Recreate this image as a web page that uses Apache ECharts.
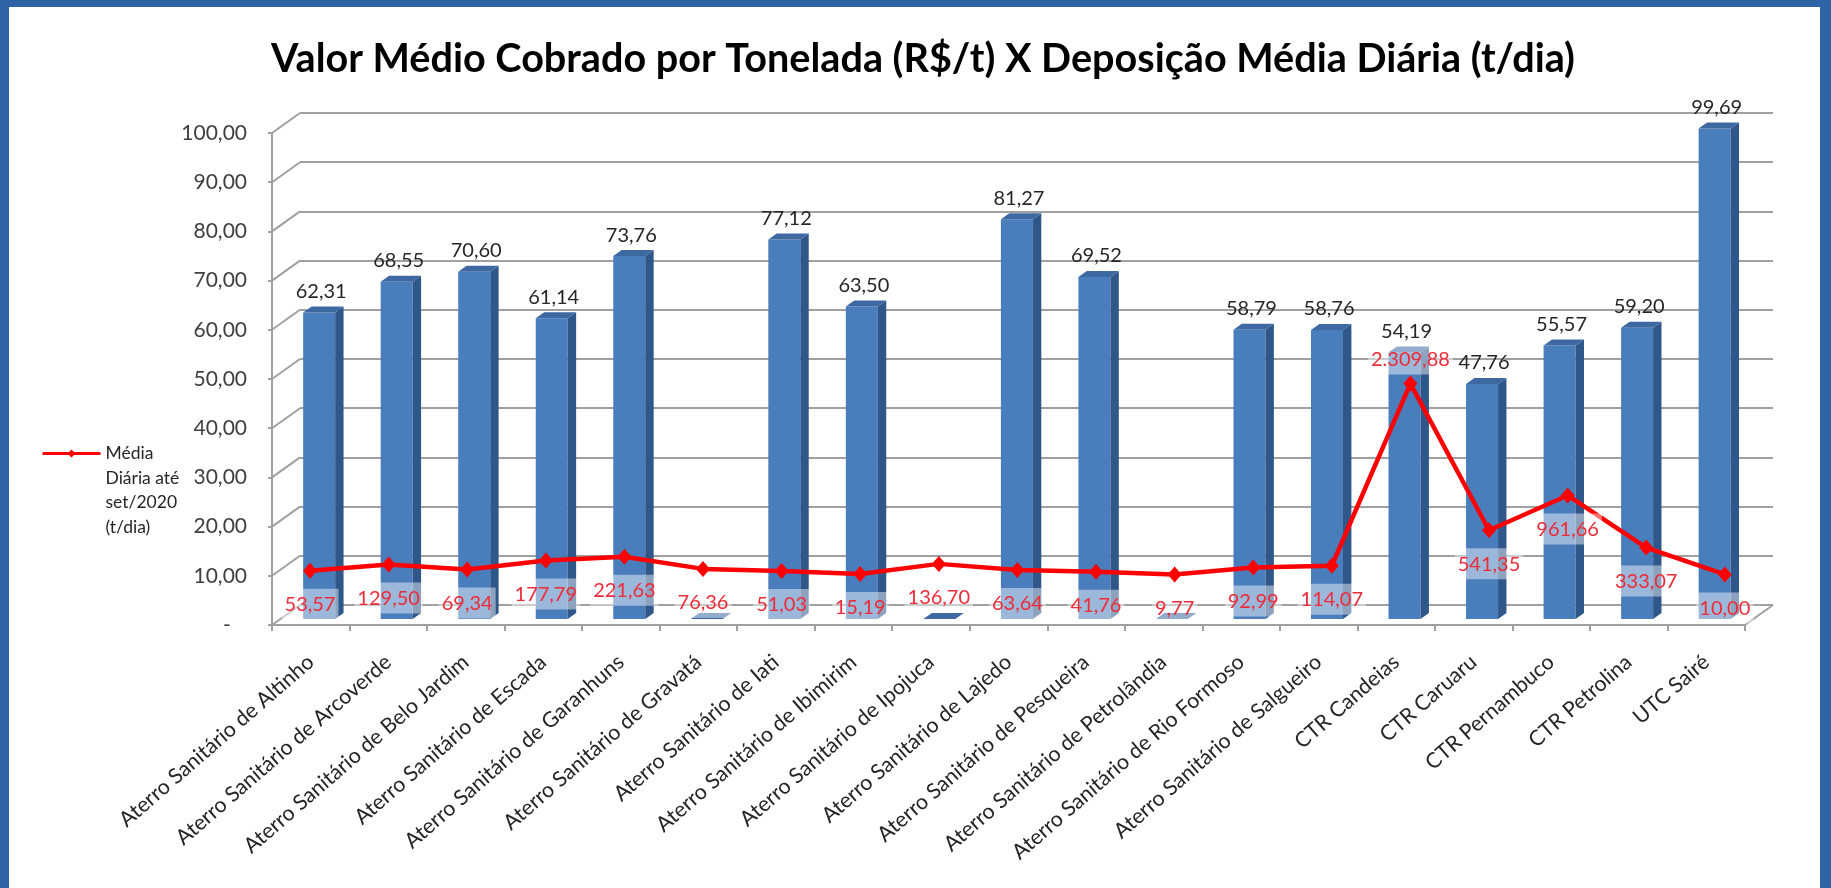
<!DOCTYPE html>
<html>
<head>
<meta charset="utf-8">
<title>Valor Médio Cobrado por Tonelada x Deposição Média Diária</title>
<script src="https://cdn.jsdelivr.net/npm/echarts@6/dist/echarts.min.js"></script>
<style>
  html, body { margin: 0; padding: 0; background: #ffffff; }
  #chart { position: absolute; left: 0; top: 0; width: 1831px; height: 888px; }
  #frame {
    position: absolute; left: 0; top: 0; width: 1831px; height: 888px;
    box-sizing: border-box; border-style: solid; border-color: #2f63a6;
    border-width: 7px 11px 0 9px; pointer-events: none;
  }
</style>
</head>
<body>
<div id="chart"></div>
<div id="frame"></div>
<script>
// ---- data ----
const categories = [
  'Aterro Sanitário de Altinho',
  'Aterro Sanitário de Arcoverde',
  'Aterro Sanitário de Belo Jardim',
  'Aterro Sanitário de Escada',
  'Aterro Sanitário de Garanhuns',
  'Aterro Sanitário de Gravatá',
  'Aterro Sanitário de Iati',
  'Aterro Sanitário de Ibimirim',
  'Aterro Sanitário de Ipojuca',
  'Aterro Sanitário de Lajedo',
  'Aterro Sanitário de Pesqueira',
  'Aterro Sanitário de Petrolândia',
  'Aterro Sanitário de Rio Formoso',
  'Aterro Sanitário de Salgueiro',
  'CTR Candeias',
  'CTR Caruaru',
  'CTR Pernambuco',
  'CTR Petrolina',
  'UTC Sairé'
];

// Valor médio cobrado por tonelada (R$/t)
const valorMedio = [62.31, 68.55, 70.60, 61.14, 73.76, 0, 77.12, 63.50, 0, 81.27,
                    69.52, 0, 58.79, 58.76, 54.19, 47.76, 55.57, 59.20, 99.69];

// Deposição média diária até set/2020 (t/dia)
const mediaDiaria = [53.57, 129.50, 69.34, 177.79, 221.63, 76.36, 51.03, 15.19, 136.70, 63.64,
                     41.76, 9.77, 92.99, 114.07, 2309.88, 541.35, 961.66, 333.07, 10.00];

// R$/t axis ticks
const yTicks = [0, 10, 20, 30, 40, 50, 60, 70, 80, 90, 100];

const lineName = 'Média Diária até set/2020 (t/dia)';
const legendLines = ['Média', 'Diária até', 'set/2020', '(t/dia)'];

// ---- look ----
const FONT = 'Lato';
const GRID_COLOR = '#a0a0a0';
const BAR_FRONT = '#4a7dbb';
const BAR_SIDE = '#30578a';
const BAR_TOP = '#3d68a2';
const RED = '#ff0000';

// oblique depth of the floor/walls, and where the bars sit inside it
const DEPTH = [28, -20];
const BAR_OFFSET = 0.3;   // front face of the bars, as a share of the depth
const BAR_DEPTH = 0.3;    // depth of each bar, as a share of the depth
const BAR_W = 32;

// pt-BR number format: 2.309,88
function fmt(v) {
  const parts = Math.abs(v).toFixed(2).split('.');
  const int = parts[0].replace(/\B(?=(\d{3})+(?!\d))/g, '.');
  return (v < 0 ? '-' : '') + int + ',' + parts[1];
}

const frontGrid = { left: 272, top: 133, width: 1473, height: 492 };
const backGrid = {
  left: frontGrid.left + DEPTH[0], top: frontGrid.top + DEPTH[1],
  width: frontGrid.width, height: frontGrid.height
};
const lineGrid = { left: 270.7, top: 133, width: 1493.4, height: 492 };

const peak = Math.max.apply(null, mediaDiaria);

const chart = echarts.init(document.getElementById('chart'), null, { renderer: 'canvas' });

chart.setOption({
  animation: false,
  backgroundColor: '#ffffff',
  title: {
    text: 'Valor Médio Cobrado por Tonelada (R$/t) X Deposição Média Diária (t/dia)',
    left: 918, top: 34, textAlign: 'center',
    textStyle: { fontFamily: FONT, fontWeight: 'bold', fontSize: 39.6, color: '#000000' }
  },
  legend: {
    left: 36, top: 362, orient: 'vertical',
    itemWidth: 58, itemHeight: 10,
    data: [lineName],
    // blank lines above keep the first text line level with the icon
    formatter: () => '\n\n\n' + legendLines.join('\n'),
    lineStyle: { width: 3 },
    textStyle: {
      fontFamily: FONT, fontSize: 17.5, color: '#262626', lineHeight: 24.7
    }
  },
  grid: [
    Object.assign({ containLabel: false }, frontGrid),
    Object.assign({ containLabel: false }, backGrid),
    Object.assign({ containLabel: false }, lineGrid)
  ],
  xAxis: [
    {
      gridIndex: 0, type: 'category', data: categories,
      axisLine: { show: true, lineStyle: { color: GRID_COLOR, width: 2 } },
      axisTick: { show: true, length: 6, interval: 0, lineStyle: { color: GRID_COLOR, width: 2 } },
      axisLabel: {
        interval: 0, rotate: 41, margin: 34,
        fontFamily: FONT, fontSize: 21.3, color: '#262626'
      },
      splitLine: { show: false }
    },
    {
      gridIndex: 1, type: 'category', data: categories,
      axisLine: { show: false }, axisTick: { show: false }, axisLabel: { show: false },
      splitLine: { show: false }
    },
    {
      gridIndex: 2, type: 'category', data: categories,
      axisLine: { show: false }, axisTick: { show: false }, axisLabel: { show: false },
      splitLine: { show: false }
    }
  ],
  yAxis: [
    {
      gridIndex: 0, type: 'value', min: yTicks[0], max: yTicks[yTicks.length - 1], interval: 10,
      axisLine: { show: true, lineStyle: { color: GRID_COLOR, width: 2 } },
      axisTick: { show: true, length: 4, lineStyle: { color: GRID_COLOR, width: 2 } },
      axisLabel: {
        margin: 25, fontFamily: FONT, fontSize: 21, color: '#404040',
        formatter: v => (v === 0 ? '-   ' : fmt(v))
      },
      splitLine: { show: false }
    },
    {
      gridIndex: 1, type: 'value', min: yTicks[0], max: yTicks[yTicks.length - 1], interval: 10,
      axisLine: { show: false }, axisTick: { show: false }, axisLabel: { show: false },
      splitLine: { show: true, lineStyle: { color: GRID_COLOR, width: 2 } }
    },
    {
      gridIndex: 2, type: 'value', min: -600, max: 5330, show: false,
      splitLine: { show: false }
    }
  ],
  series: [
    // side wall and floor edges joining the front axes to the back wall
    {
      type: 'custom', xAxisIndex: 0, yAxisIndex: 0, silent: true, z: 1,
      data: yTicks.map(v => [0, v]),
      renderItem(params, api) {
        const cs = params.coordSys;
        const v = api.value(1);
        const y = api.coord([0, v])[1];
        const style = { stroke: GRID_COLOR, lineWidth: 2, fill: null };
        const kids = [{
          type: 'line',
          shape: { x1: cs.x, y1: y, x2: cs.x + DEPTH[0], y2: y + DEPTH[1] },
          style: style
        }];
        if (v === 0) {
          kids.push({
            type: 'line',
            shape: { x1: cs.x + cs.width, y1: y, x2: cs.x + cs.width + DEPTH[0], y2: y + DEPTH[1] },
            style: style
          });
        }
        return { type: 'group', children: kids };
      }
    },
    // 3D columns: valor médio (R$/t)
    {
      type: 'custom', name: 'Valor Médio (R$/t)', xAxisIndex: 0, yAxisIndex: 0, z: 2,
      data: valorMedio.map((v, i) => [i, v]),
      renderItem(params, api) {
        const idx = api.value(0), val = api.value(1);
        const base = api.coord([idx, 0]);
        const top = api.coord([idx, val]);
        const fx = DEPTH[0] * BAR_OFFSET, fy = DEPTH[1] * BAR_OFFSET;
        const bx = DEPTH[0] * BAR_DEPTH, by = DEPTH[1] * BAR_DEPTH;
        const xl = base[0] + fx - BAR_W / 2, xr = xl + BAR_W;
        const yb = base[1] + fy, yt = top[1] + fy;
        const kids = [];
        if (yb - yt > 0.5) {
          kids.push({ type: 'rect', shape: { x: xl, y: yt, width: BAR_W, height: yb - yt },
                      style: { fill: BAR_FRONT } });
          kids.push({ type: 'polygon',
                      shape: { points: [[xr, yt], [xr + bx, yt + by], [xr + bx, yb + by], [xr, yb]] },
                      style: { fill: BAR_SIDE } });
        }
        kids.push({ type: 'polygon',
                    shape: { points: [[xl, yt], [xl + bx, yt + by], [xr + bx, yt + by], [xr, yt]] },
                    style: { fill: BAR_TOP } });
        if (val > 0) {
          kids.push({
            type: 'text',
            style: {
              text: fmt(val), x: xl + BAR_W / 2 + 2, y: yt + by - 5,
              textAlign: 'center', textVerticalAlign: 'bottom',
              align: 'center', verticalAlign: 'bottom',
              fill: '#262626', font: '20px ' + FONT
            }
          });
        }
        return { type: 'group', children: kids };
      }
    },
    // red line: deposição média diária (t/dia)
    {
      type: 'line', name: lineName, xAxisIndex: 2, yAxisIndex: 2, z: 5,
      data: mediaDiaria.map(v => (v === peak
        ? { value: v, label: { position: 'top', distance: 1 } }
        : v)),
      symbol: 'diamond', symbolSize: [14, 16],
      lineStyle: { color: RED, width: 4.5 },
      itemStyle: { color: RED },
      label: {
        show: true, position: 'bottom', distance: 10,
        formatter: p => fmt(p.value),
        fontFamily: FONT, fontSize: 20, color: '#ee2b38',
        backgroundColor: 'rgba(255,255,255,0.45)',
        padding: [6, 3, 5, 3]
      }
    }
  ]
});
</script>
</body>
</html>
